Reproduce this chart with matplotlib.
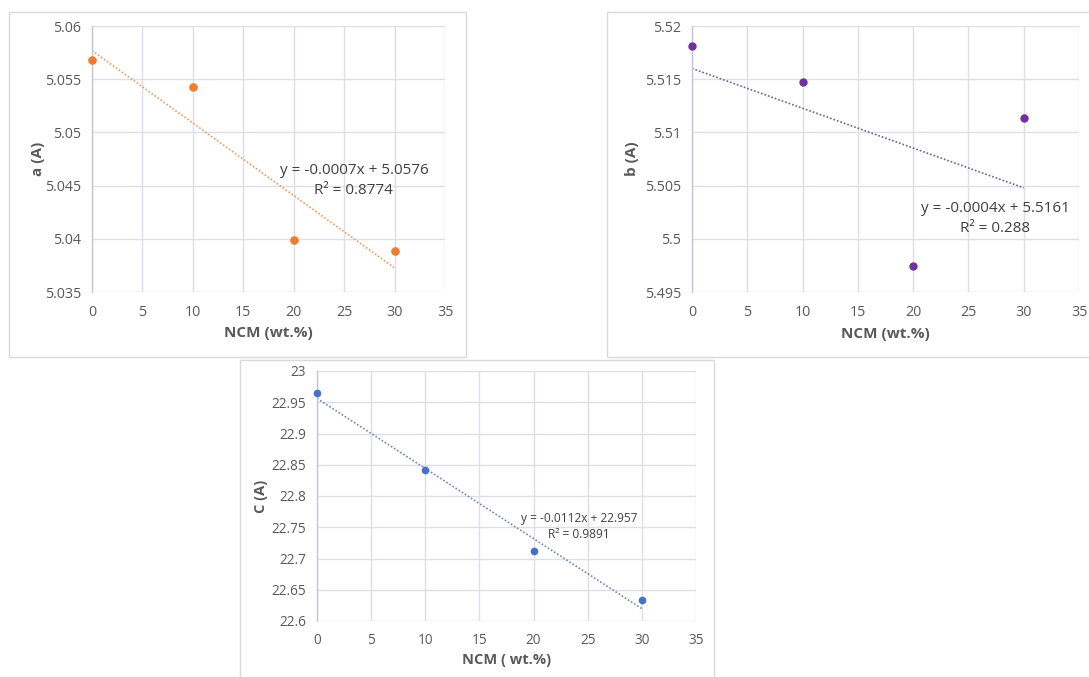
import numpy as np
import matplotlib
matplotlib.use("Agg")
import matplotlib.pyplot as plt
from matplotlib.patches import Rectangle

plt.rcParams['font.family'] = ['Open Sans', 'DejaVu Sans']

# NCM content (wt.%)
ncm = [0, 10, 20, 30]

# Lattice parameters
a_vals = [5.0568, 5.0543, 5.0399, 5.0389]
b_vals = [5.5181, 5.5147, 5.4974, 5.5114]
c_vals = [22.9648, 22.8414, 22.7112, 22.6343]

# Trendline annotations
a_eq = ["y = -0.0007x + 5.0576", "R\u00b2 = 0.8774"]
b_eq = ["y = -0.0004x + 5.5161", "R\u00b2 = 0.288"]
c_eq = ["y = -0.0112x + 22.957", "R\u00b2 = 0.9891"]

# Axis labels and ticks
a_label, b_label, c_label = "a (A)", "b (A)", "C (A)"
x_label_ab, x_label_c = "NCM (wt.%)", "NCM ( wt.%)"
x_ticks = [0, 5, 10, 15, 20, 25, 30, 35]
a_ticks = [5.035, 5.04, 5.045, 5.05, 5.055, 5.06]
a_ticklabels = ["5.035", "5.04", "5.045", "5.05", "5.055", "5.06"]
b_ticks = [5.495, 5.5, 5.505, 5.51, 5.515, 5.52]
b_ticklabels = ["5.495", "5.5", "5.505", "5.51", "5.515", "5.52"]
c_ticks = [22.6, 22.65, 22.7, 22.75, 22.8, 22.85, 22.9, 22.95, 23.0]
c_ticklabels = ["22.6", "22.65", "22.7", "22.75", "22.8", "22.85", "22.9", "22.95", "23"]

W, H = 1089, 677
fig = plt.figure(figsize=(W / 100, H / 100), dpi=100)
fig.patch.set_facecolor("white")

TXT = "#595959"
GRID = "#dcdfe6"


def px_axes(x0, y0, x1, y1):
    """Axes from pixel box (left, top, right, bottom)."""
    return fig.add_axes([x0 / W, 1 - y1 / H, (x1 - x0) / W, (y1 - y0) / H])


def frame(x0, y0, x1, y1):
    fig.patches.append(Rectangle((x0 / W, 1 - y1 / H), (x1 - x0) / W, (y1 - y0) / H,
                                 transform=fig.transFigure, facecolor="none",
                                 edgecolor="#d9d9d9", linewidth=1.0, zorder=0))


def panel(ax, y, color, trend_color, ticks, ticklabels, ylabel, xlabel, eq,
          eq_pos, tick_fs, lab_fs, eq_fs, ms, eq_ls, ylab_x, xlab_y):
    ax.set_xlim(0, 35)
    ax.set_ylim(ticks[0], ticks[-1])
    ax.set_xticks(x_ticks)
    ax.set_yticks(ticks)
    ax.set_yticklabels(ticklabels)
    ax.grid(True, color=GRID, linewidth=1.0)
    ax.set_axisbelow(True)
    for s in ["top", "right", "bottom"]:
        ax.spines[s].set_visible(False)
    ax.spines["left"].set_color("#c3c6d6")
    ax.spines["left"].set_linewidth(1.0)
    ax.tick_params(length=0, labelsize=tick_fs, labelcolor=TXT, pad=8)
    ax.tick_params(axis="x", pad=9)
    ax.set_ylabel(ylabel, fontsize=lab_fs, fontweight="bold", color=TXT)
    ax.set_xlabel(xlabel, fontsize=lab_fs, fontweight="bold", color=TXT)
    ax.yaxis.set_label_coords(ylab_x, 0.5)
    ax.xaxis.set_label_coords(0.5, xlab_y)

    slope, intercept = np.polyfit(ncm, y, 1)
    xs = np.array([ncm[0], ncm[-1]])
    ax.plot(xs, slope * xs + intercept, linestyle=(0, (1, 1.2)), color=trend_color,
            linewidth=1.2, zorder=2)
    ax.plot(ncm, y, "o", color=color, markersize=ms, zorder=3, clip_on=False)
    ax.text(eq_pos[0], eq_pos[1], "\n".join(eq), transform=ax.transAxes,
            ha="center", va="center", fontsize=eq_fs, color="#404040",
            linespacing=eq_ls, multialignment="center")


# Panel frames
frame(9, 12, 466, 357)
frame(607, 12, 1095, 357)
frame(240, 360, 714, 690)

ax_a = px_axes(92, 26, 445, 292)
panel(ax_a, a_vals, "#ED7D31", "#EE9A5E", a_ticks, a_ticklabels, a_label,
      x_label_ab, a_eq, (0.742, 0.419), 10.3, 11, 11.0, 5.2, 1.4, -0.133, -0.128)

ax_b = px_axes(692, 26, 1079, 292)
panel(ax_b, b_vals, "#7030A0", "#7a5a94", b_ticks, b_ticklabels, b_label,
      x_label_ab, b_eq, (0.783, 0.276), 10.3, 11, 11.0, 5.0, 1.4, -0.137, -0.13)

ax_c = px_axes(317, 371, 696, 621)
panel(ax_c, c_vals, "#4472C4", "#6f86b3", c_ticks, c_ticklabels, c_label,
      x_label_c, c_eq, (0.692, 0.378), 9.8, 10.5, 8.6, 4.5, 1.35, -0.129, -0.128)

fig.savefig("out.png", dpi=100)
